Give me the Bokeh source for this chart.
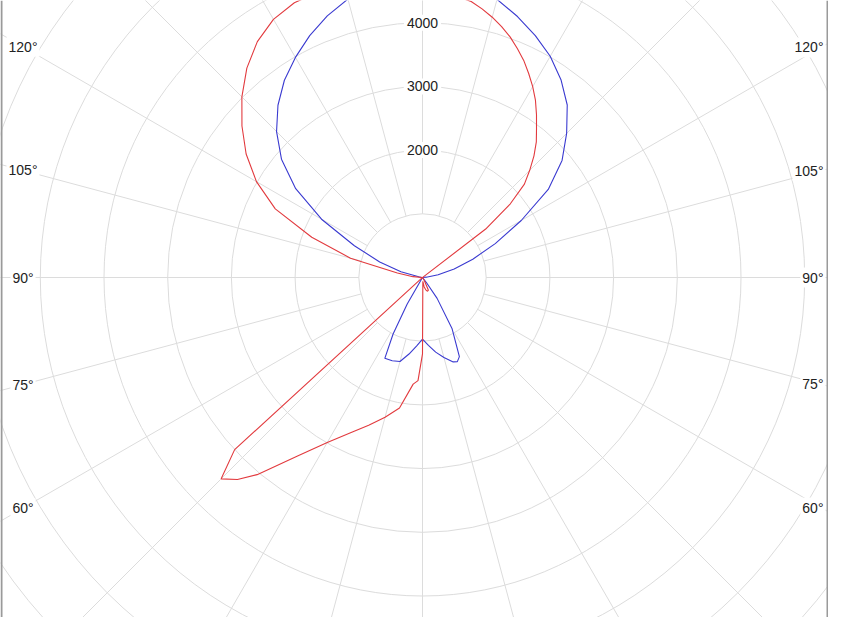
import numpy as np
from bokeh.plotting import figure
from bokeh.models import Range1d, Label, Span
from bokeh.embed import file_html
from bokeh.resources import INLINE

# ---------------- data: luminous intensity (cd) against gamma angle (deg, 0 = nadir)
red_right_gamma = [0, 5, 10, 15, 20, 25, 30, 35, 40, 50, 60, 70, 80, 90, 100, 110, 120, 125,
                   127.5, 130, 132.5, 135, 137.5, 140, 142.5, 145, 147.5, 150, 152.5, 155,
                   157.5, 160, 162.5, 165, 167.5, 170, 175, 180]
red_right_cd = [1200, 60, 150, 200, 230, 220, 60, 8, 5, 5, 5, 5, 5, 5, 5, 5, 5, 10,
                1250, 1800, 2170, 2380, 2590, 2780, 2940, 3120, 3300, 3460, 3610, 3760,
                3890, 4020, 4130, 4230, 4320, 4400, 4480, 4520]

red_left_gamma = [0, 2.5, 5, 10, 15, 20, 25, 30, 35, 40, 42.5, 45, 47.5, 50, 60, 70, 80, 90,
                  95, 100, 105, 110, 115, 120, 125, 130, 135, 140, 145, 150, 155, 160, 165,
                  170, 175, 180]
red_left_cd = [1200, 1620, 1680, 2080, 2270, 2470, 2695, 2990, 3420, 4040, 4300, 4470, 4000,
               10, 5, 5, 5, 5, 150, 400, 1170, 1850, 2550, 3010, 3380, 3700, 4010, 4290,
               4520, 4680, 4760, 4770, 4730, 4660, 4580, 4520]

blue_right_gamma = [0, 5, 10, 15, 20, 22.5, 25, 30, 35, 37.5, 40, 50, 60, 70, 80, 90, 95, 100,
                    105, 110, 115, 120, 125, 130, 135, 140, 145, 150, 155, 160, 165, 170,
                    175, 180]
blue_right_cd = [966, 1070, 1190, 1300, 1410, 1430, 1370, 930, 400, 100, 5, 5, 5, 5, 5, 5, 60,
                 250, 515, 840, 1260, 1790, 2410, 2860, 3200, 3535, 3790, 4010, 4190, 4360,
                 4520, 4640, 4710, 4740]

blue_left_gamma = [0, 5, 10, 15, 20, 25, 27.5, 30, 35, 40, 50, 60, 70, 80, 90, 95, 100, 105,
                   110, 115, 120, 125, 130, 135, 140, 145, 150, 155, 160, 165, 170, 175, 180]
blue_left_cd = [966, 1080, 1220, 1365, 1390, 1400, 1000, 480, 5, 5, 5, 5, 5, 5, 5, 10, 60, 350,
                715, 1180, 1830, 2430, 2890, 3240, 3530, 3780, 3990, 4190, 4370, 4525, 4640,
                4710, 4740]

ring_values = [1000, 2000, 3000, 4000, 5000, 6000, 7000, 8000, 9000]
ring_label_values = [2000, 3000, 4000]
spoke_angles = list(range(0, 360, 15))
side_label_angles = [60, 75, 90, 105, 120]

# ---------------- layout constants
PX_PER_CD = 0.0637
W, H = 828, 617
CX, CY = 422, 277          # centre of the diagram in figure pixels

x0 = -CX / PX_PER_CD
x1 = (W - CX) / PX_PER_CD
y1 = CY / PX_PER_CD
y0 = -(H - CY) / PX_PER_CD

p = figure(width=W, height=H, x_range=Range1d(x0, x1), y_range=Range1d(y0, y1),
           output_backend="svg", toolbar_location=None, x_axis_type=None, y_axis_type=None,
           min_border=0, min_border_left=0, min_border_right=0, min_border_top=0,
           min_border_bottom=0)
p.grid.visible = False
p.outline_line_color = None
p.background_fill_color = "white"
p.border_fill_color = "white"

GRID = "#dcdcdc"

# rings
p.circle(x=[0] * len(ring_values), y=[0] * len(ring_values), radius=ring_values,
         radius_units="data", fill_color=None, line_color=GRID, line_width=1)

# spokes from the first ring outward
a = np.radians(np.array(spoke_angles, dtype=float))
r_in, r_out = ring_values[0], 12000
p.segment(x0=r_in * np.sin(a), y0=-r_in * np.cos(a), x1=r_out * np.sin(a), y1=-r_out * np.cos(a),
          line_color=GRID, line_width=1)


def curve(gr, ir, gl, il):
    gr = np.radians(np.array(gr, dtype=float)); ir = np.array(ir, dtype=float)
    gl = np.radians(np.array(gl, dtype=float))[::-1]; il = np.array(il, dtype=float)[::-1]
    xs = np.concatenate([ir * np.sin(gr), -il * np.sin(gl)])
    ys = np.concatenate([-ir * np.cos(gr), -il * np.cos(gl)])
    return xs, ys


bx, by = curve(blue_right_gamma, blue_right_cd, blue_left_gamma, blue_left_cd)
rx, ry = curve(red_right_gamma, red_right_cd, red_left_gamma, red_left_cd)
p.line(bx, by, line_color="#3a3ad0", line_width=1.1)
p.line(rx, ry, line_color="#e23a3e", line_width=1.1)

FONT = "Liberation Sans"
TXT = "#222222"

for v in ring_label_values:
    p.add_layout(Label(x=0, y=v, text=str(v), text_align="center", text_baseline="middle",
                       text_font=FONT, text_font_size="14px", text_color=TXT,
                       background_fill_color="white", padding=3))

LEFT_X = -399.5 / PX_PER_CD      # label centres on the left edge
RIGHT_X = (W - 3 - CX) / PX_PER_CD  # label right edges on the right edge
for g in side_label_angles:
    gr = np.radians(g)
    cot = np.cos(gr) / np.sin(gr)
    yl = LEFT_X * cot
    p.add_layout(Label(x=LEFT_X, y=yl, text=f"{g}°", text_align="center",
                       text_baseline="middle", text_font=FONT, text_font_size="14px",
                       text_color=TXT, background_fill_color="white", padding=2))
    xr = 398.5 / PX_PER_CD
    yr = -xr * cot
    p.add_layout(Label(x=RIGHT_X, y=yr, text=f"{g}°", text_align="right",
                       text_baseline="middle", text_font=FONT, text_font_size="14px",
                       text_color=TXT, background_fill_color="white", padding=2))

# frame edges visible at the sides of the picture
p.add_layout(Span(location=x0 + 1 / PX_PER_CD, dimension="height", line_color="#9a9a9a", line_width=2))
p.add_layout(Span(location=x1 - 1 / PX_PER_CD, dimension="height", line_color="#9a9a9a", line_width=2))

open("out.html", "w").write(file_html(p, INLINE))
